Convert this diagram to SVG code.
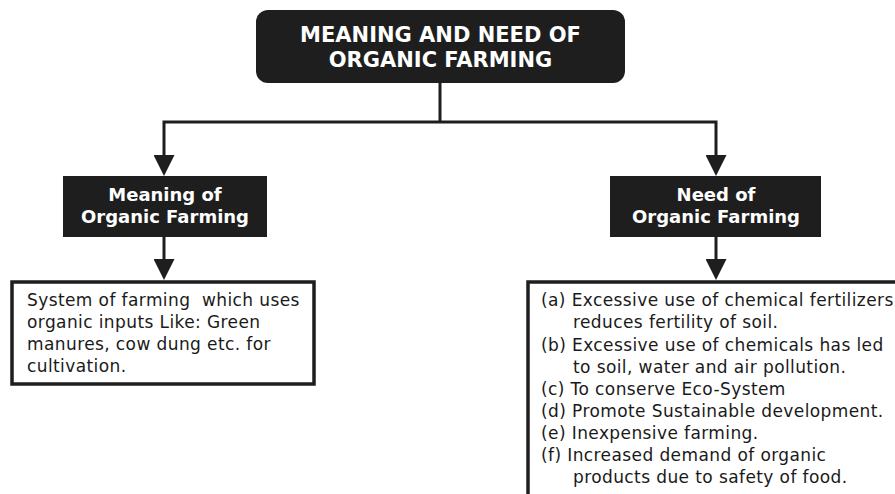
<svg xmlns="http://www.w3.org/2000/svg" width="895" height="494" viewBox="0 0 895 494">
  <style>
    .hdr { fill: #1e1e1e; }
    .hdr-text { font-family: "DejaVu Sans", Verdana, sans-serif; font-weight: bold; fill: #ffffff; text-anchor: middle; }
    .box { fill: #ffffff; stroke: #1e1e1e; stroke-width: 3.5; }
    .body { font-family: "DejaVu Sans", Verdana, sans-serif; font-size: 17px; letter-spacing: 0.4px; fill: #1a1a1a; }
    .conn { fill: none; stroke: #1e1e1e; stroke-width: 3; stroke-linejoin: miter; }
  </style>
  <defs>
    <marker id="arrow" viewBox="0 0 21 21" refX="0" refY="10.5" markerWidth="21" markerHeight="21" markerUnits="userSpaceOnUse" orient="auto-start-reverse">
      <path d="M0,0 L21,10.5 L0,21 Z" fill="#1e1e1e"/>
    </marker>
  </defs>

  <rect width="895" height="494" fill="#ffffff"/>

  <!-- connectors -->
  <g id="connectors">
    <path class="conn" d="M440,83 V122"/>
    <path class="conn" d="M164,155 V122 H716 V155" marker-start="url(#arrow)" marker-end="url(#arrow)"/>
    <path class="conn" d="M164,237 V259" marker-end="url(#arrow)"/>
    <path class="conn" d="M716,237 V259" marker-end="url(#arrow)"/>
  </g>

  <!-- title -->
  <g id="title">
    <rect class="hdr" x="256" y="10" width="369" height="73" rx="12" ry="12"/>
    <text class="hdr-text" font-size="21" x="440.5" y="42">MEANING AND NEED OF</text>
    <text class="hdr-text" font-size="21" x="440.5" y="67">ORGANIC FARMING</text>
  </g>

  <!-- meaning branch -->
  <g id="meaning">
    <rect class="hdr" x="63" y="176" width="204" height="61"/>
    <text class="hdr-text" font-size="18" x="165" y="201">Meaning of</text>
    <text class="hdr-text" font-size="18" x="165" y="223">Organic Farming</text>
  </g>

  <!-- need branch -->
  <g id="need">
    <rect class="hdr" x="610" y="176" width="211" height="61"/>
    <text class="hdr-text" font-size="18" x="716" y="201">Need of</text>
    <text class="hdr-text" font-size="18" x="716" y="223">Organic Farming</text>
  </g>

  <!-- meaning details -->
  <g id="meaning-detail">
    <rect class="box" x="12" y="282" width="302" height="102"/>
    <text class="body" x="27" y="306" style="white-space:pre">System of farming  which uses</text>
    <text class="body" x="27" y="328">organic inputs Like: Green</text>
    <text class="body" x="27" y="350">manures, cow dung etc. for</text>
    <text class="body" x="27" y="372">cultivation.</text>
  </g>

  <!-- need details -->
  <g id="need-detail">
    <rect class="box" x="528" y="282" width="380" height="230"/>
    <text class="body" x="541" y="306">(a) Excessive use of chemical fertilizers</text>
    <text class="body" x="573" y="328">reduces fertility of soil.</text>
    <text class="body" x="541" y="351">(b) Excessive use of chemicals has led</text>
    <text class="body" x="573" y="373">to soil, water and air pollution.</text>
    <text class="body" x="541" y="395">(c) To conserve Eco-System</text>
    <text class="body" x="541" y="417">(d) Promote Sustainable development.</text>
    <text class="body" x="541" y="439">(e) Inexpensive farming.</text>
    <text class="body" x="541" y="461">(f) Increased demand of organic</text>
    <text class="body" x="573" y="483">products due to safety of food.</text>
  </g>
</svg>
